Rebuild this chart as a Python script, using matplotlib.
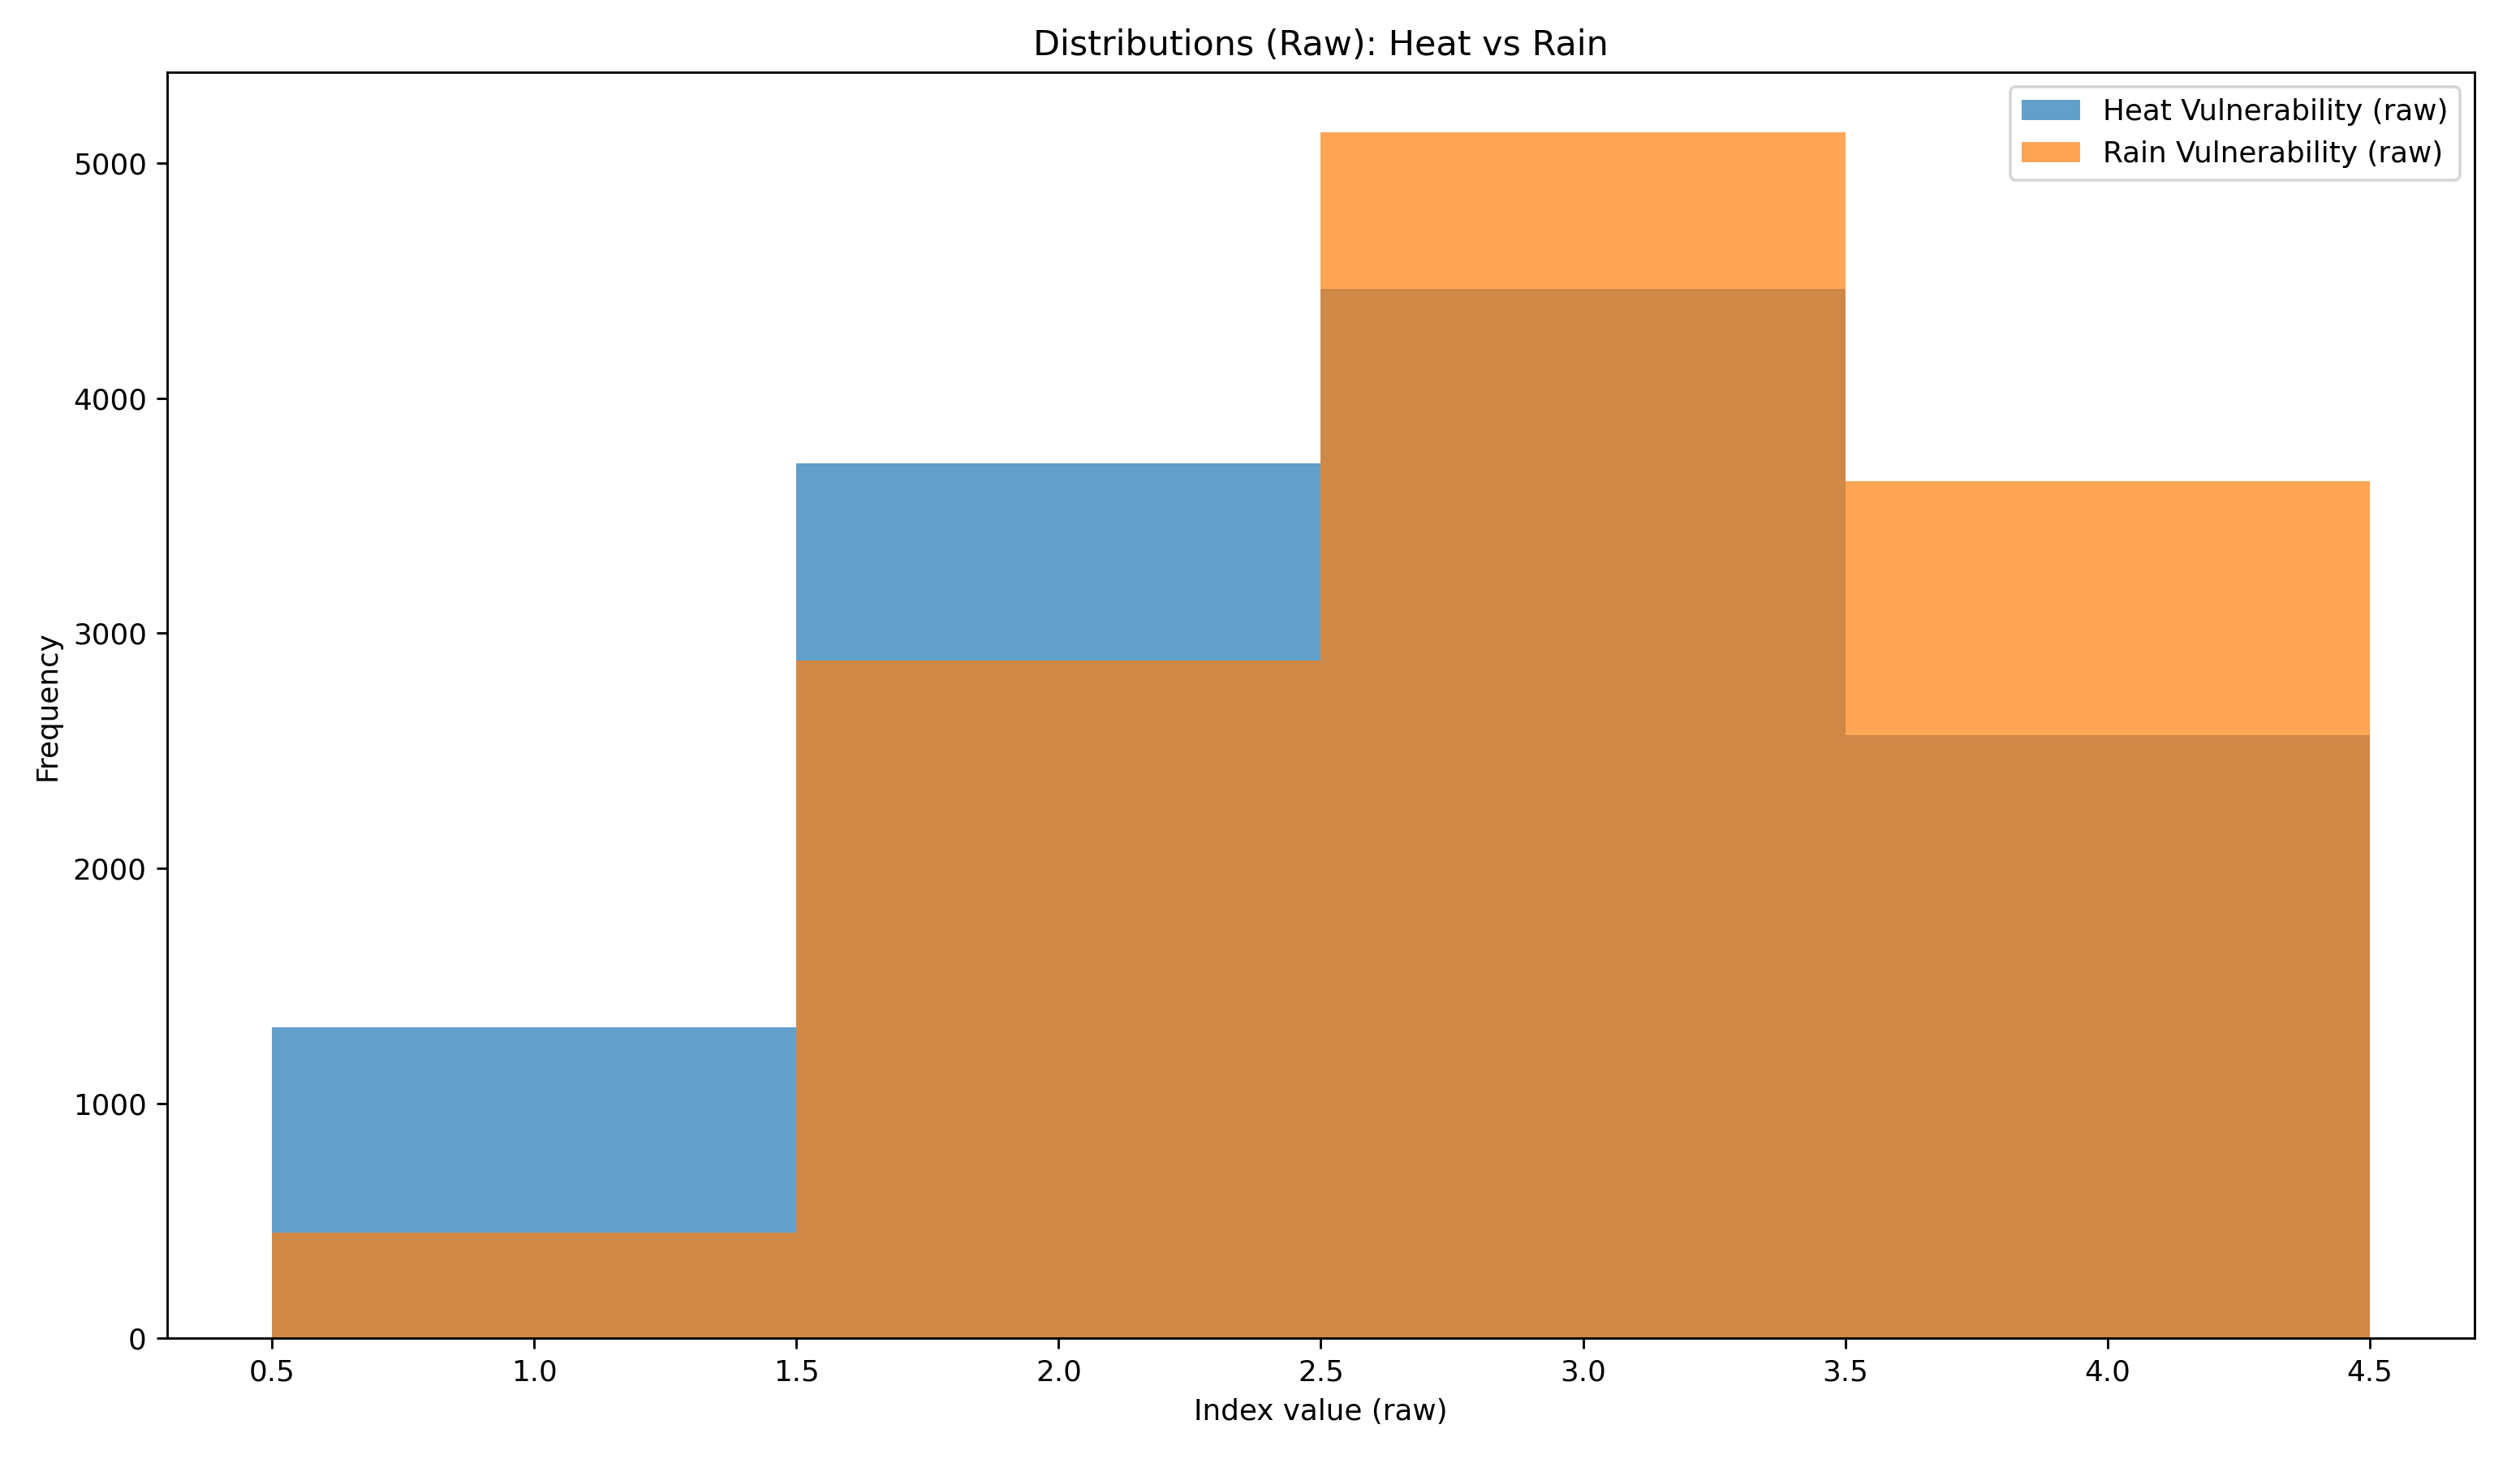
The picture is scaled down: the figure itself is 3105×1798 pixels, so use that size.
import numpy as np
import matplotlib.pyplot as plt

# Bins del histograma (valores enteros 1..4)
bin_edges = [0.5, 1.5, 2.5, 3.5, 4.5]
bin_centers = [1, 2, 3, 4]

# Frecuencias
heat_counts = [1325, 3723, 4467, 2568]
rain_counts = [451, 2883, 5130, 3648]

dpi = 257.3
fig = plt.figure(figsize=(3105 / dpi, 1798 / dpi), dpi=dpi)
ax = fig.add_axes([0.0663, 0.0826, 0.9157, 0.8678])

ax.hist(bin_centers, bins=bin_edges, weights=heat_counts, alpha=0.7,
        label='Heat Vulnerability (raw)')
ax.hist(bin_centers, bins=bin_edges, weights=rain_counts, alpha=0.7,
        label='Rain Vulnerability (raw)')

ax.set_xticks(np.arange(0.5, 4.51, 0.5))
ax.set_title('Distributions (Raw): Heat vs Rain')
ax.set_xlabel('Index value (raw)')
ax.set_ylabel('Frequency')
ax.legend(loc='upper right')

fig.savefig('out.png', dpi=dpi)
